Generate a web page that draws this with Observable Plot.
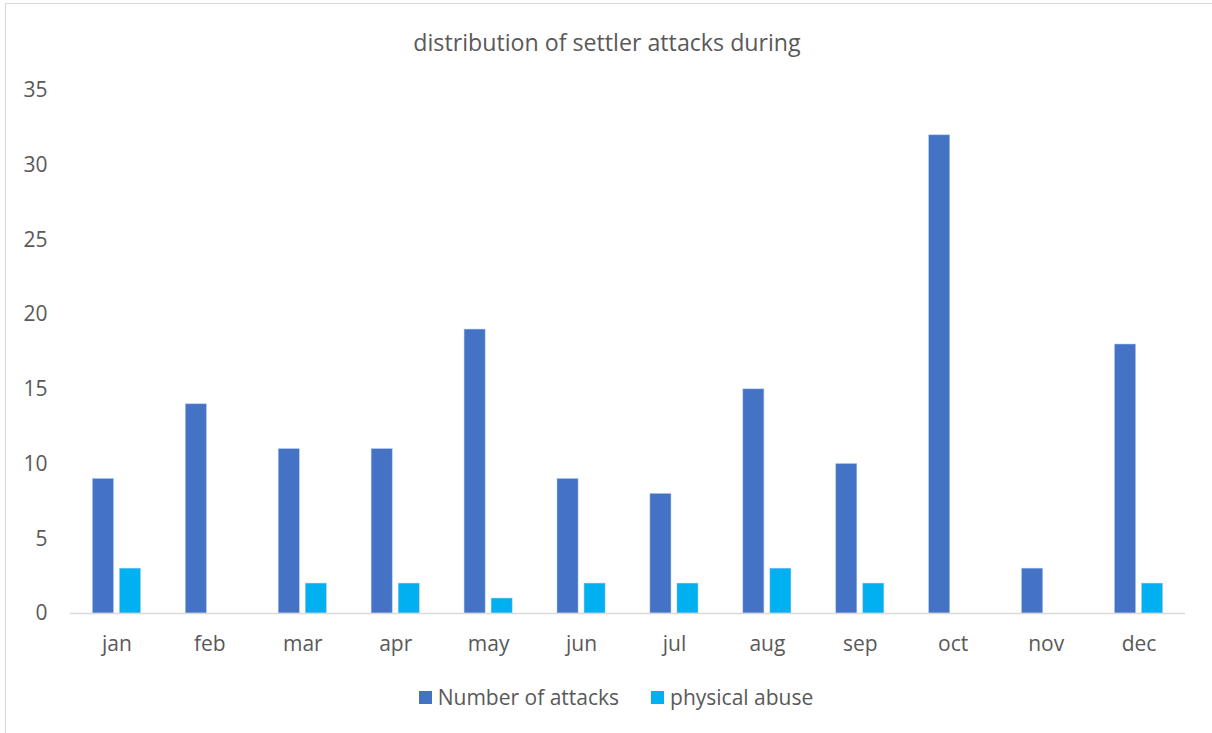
<!DOCTYPE html>
<html>
<head>
<meta charset="utf-8">
<script src="https://cdn.jsdelivr.net/npm/d3@7"></script>
<script src="https://cdn.jsdelivr.net/npm/@observablehq/plot@0.6"></script>
<style>
  html, body { margin: 0; padding: 0; background: #fff; }
  body { width: 1212px; height: 733px; position: relative; overflow: hidden; font-family: "Open Sans", sans-serif; color: #595959; }
  #frame { position: absolute; left: 5px; top: 3px; width: 1230px; height: 760px; border: 1.5px solid #d9d9d9; box-sizing: border-box; }
  #title { position: absolute; left: 0; width: 1214px; top: 26px; text-align: center; font-size: 23.2px; color: #595959; }
  #chart { position: absolute; left: 0; top: 60px; }
  #legend { position: absolute; left: 10px; width: 1212px; top: 683px; display: flex; justify-content: center; gap: 32px; font-size: 21px; color: #595959; }
  .item { display: flex; align-items: center; gap: 6px; }
  .sw { width: 13px; height: 13px; display: inline-block; }
</style>
</head>
<body>
<div id="frame"></div>
<div id="title">distribution of settler attacks during</div>
<div id="chart"></div>
<div id="legend"></div>
<script>
const months = ["jan","feb","mar","apr","may","jun","jul","aug","sep","oct","nov","dec"];
const seriesNames = ["Number of attacks", "physical abuse"];
const attacks = [9, 14, 11, 11, 19, 9, 8, 15, 10, 32, 3, 18];
const abuse = [3, 0, 2, 2, 1, 2, 2, 3, 2, 0, 0, 2];
const colors = ["#4472C4", "#00B0F0"];
const yTicks = [0, 5, 10, 15, 20, 25, 30, 35];

const rows = [];
months.forEach((m, i) => {
  rows.push({month: m, series: seriesNames[0], value: attacks[i]});
  rows.push({month: m, series: seriesNames[1], value: abuse[i]});
});

const plot = Plot.plot({
  width: 1212,
  height: 610,
  marginLeft: 70,
  marginRight: 27,
  marginTop: 30,
  marginBottom: 57,
  style: {fontFamily: "'Open Sans', sans-serif", fontSize: "21px", color: "#595959", background: "transparent"},
  fx: {domain: months, padding: 0, round: false, label: null, tickSize: 0, tickPadding: 23, axis: "bottom"},
  x: {domain: seriesNames, axis: null, round: false, paddingInner: 0.222, paddingOuter: 0.83},
  y: {domain: [0, 35], ticks: yTicks, label: null, tickSize: 0, tickPadding: 23},
  color: {domain: seriesNames, range: colors},
  marks: [
    Plot.barY(rows.filter(d => d.value > 0), {fx: "month", x: "series", y: "value", fill: "series", stroke: "#a9c4ee", strokeWidth: 0.6, strokeOpacity: 0.8}),
    Plot.ruleY([0], {stroke: "#d9d9d9", strokeWidth: 1.5})
  ]
});
plot.querySelectorAll("[aria-label='fx-axis tick label'] text, [aria-label='y-axis tick label'] text").forEach(t => t.setAttribute("fill", "#595959"));
document.getElementById("chart").appendChild(plot);

const legend = document.getElementById("legend");
seriesNames.forEach((s, i) => {
  const item = document.createElement("div");
  item.className = "item";
  const sw = document.createElement("span");
  sw.className = "sw";
  sw.style.background = colors[i];
  const label = document.createElement("span");
  label.textContent = s;
  item.appendChild(sw);
  item.appendChild(label);
  legend.appendChild(item);
});
</script>
</body>
</html>
